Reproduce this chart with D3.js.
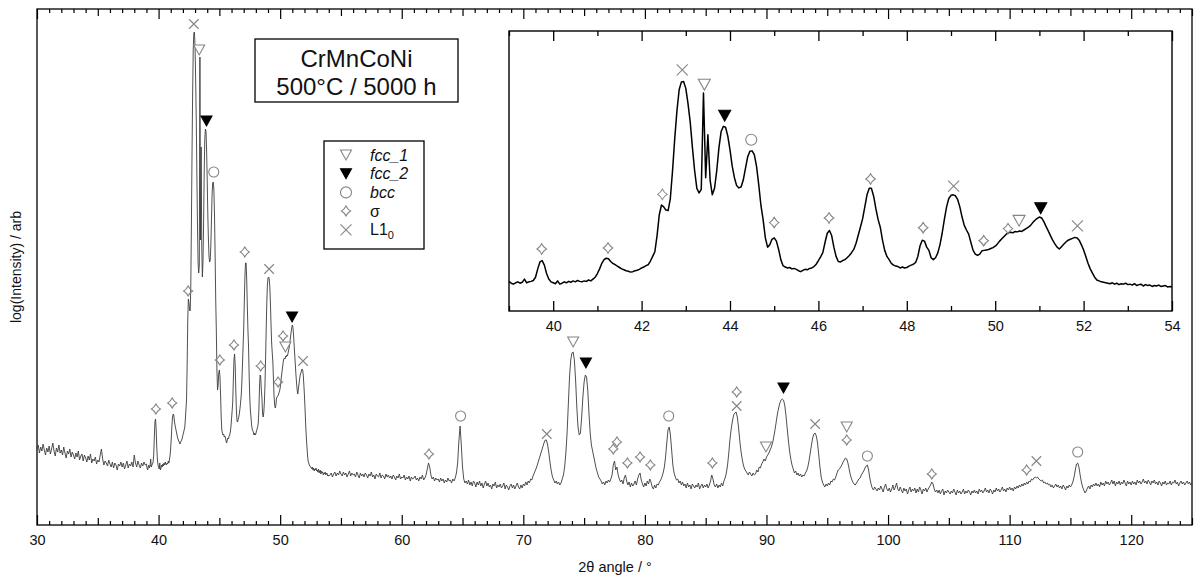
<!DOCTYPE html>
<html>
<head>
<meta charset="utf-8">
<script src="https://cdn.jsdelivr.net/npm/d3@7"></script>
<style>
  body { margin: 0; background: #fff; }
  svg { display: block; font-family: "Liberation Sans", Arial, sans-serif; }
</style>
</head>
<body>
<svg id="chart" width="1196" height="581"></svg>
<script>
// XRD scan, log(intensity) in arbitrary units
// three pieces with their own sampling step (finer through the peak cluster)
var scanLowStart = 30.0, scanLowStep = 0.1;
var scanLow = [
  76, 80, 72, 78, 74, 81, 75, 70, 77, 73,
  79, 71, 76, 82, 74, 69, 77, 73, 80, 72,
  75, 70, 78, 72, 67, 74, 71, 76, 68, 73,
  70, 66, 72, 68, 74, 65, 69, 71, 64, 70,
  67, 63, 69, 65, 71, 62, 66, 64, 68, 61,
  65, 63, 70, 76, 66, 60, 64, 62, 59, 65,
  61, 58, 63, 57, 62, 60, 55, 61, 59, 63,
  58, 62, 56, 60, 64, 57, 61, 59, 63, 58,
  70, 62, 58, 64, 60, 57, 62, 59, 63, 60,
  61
];
var scanPeakStart = 39.05, scanPeakStep = 0.05;
var scanPeak = [
  57, 55, 58, 60, 57, 59, 66, 58, 60, 61, 63, 70, 88, 103, 106, 96, 78, 66, 60, 58,
  56, 62, 55, 57, 60, 58, 61, 59, 62, 60, 63, 61, 60, 62, 61, 64, 62, 66, 70, 78,
  88, 100, 108, 111, 110, 104, 100, 97, 94, 91, 88, 86, 84, 83, 81, 82, 84, 85, 87, 90,
  92, 95, 97, 105, 115, 125, 160, 205, 226, 222, 215, 214, 240, 300, 370, 430, 475, 492, 493, 478,
  445, 405, 350, 300, 262, 252, 260, 468, 285, 378, 280, 248, 262, 300, 350, 385, 396, 394, 375, 345,
  310, 285, 268, 263, 265, 280, 305, 330, 342, 343, 335, 310, 270, 225, 194, 155, 135, 140, 152, 155,
  148, 130, 108, 95, 92, 90, 91, 88, 89, 87, 84, 82, 85, 87, 86, 89, 90, 93, 98, 106,
  114, 123, 145, 165, 171, 160, 135, 115, 104, 103, 106, 108, 112, 117, 123, 130, 143, 160, 178, 196,
  222, 248, 262, 262, 245, 218, 195, 178, 150, 128, 115, 108, 100, 96, 94, 93, 90, 92, 90, 91,
  94, 96, 98, 102, 115, 138, 150, 148, 135, 128, 112, 108, 112, 122, 140, 165, 195, 222, 240, 247,
  248, 246, 238, 222, 200, 182, 172, 163, 145, 128, 120, 117, 120, 127, 128, 129, 130, 132, 134, 137,
  142, 148, 153, 158, 163, 166, 167, 166, 169, 168, 170, 169, 172, 175, 178, 182, 188, 193, 197, 200,
  198, 190, 180, 170, 160, 150, 142, 135, 131, 136, 141, 146, 150, 152, 154, 156, 155, 150, 140, 129,
  115, 100, 88, 79, 70, 64, 62, 60, 59, 58, 57, 56, 58, 55, 57, 54, 56, 55, 57, 54,
  55, 53, 56, 52, 54, 55, 51, 54, 52, 53, 50, 52, 51, 53, 50, 51, 52, 49, 50, 49
];
var scanHighStart = 54.1, scanHighStep = 0.1;
var scanHigh = [
  50, 52, 48, 51, 53, 49, 52, 50, 54, 51,
  49, 53, 50, 52, 48, 51, 54, 49, 52, 50,
  51, 48, 53, 50, 47, 52, 49, 51, 48, 52,
  50, 47, 51, 49, 53, 48, 50, 46, 51, 49,
  48, 52, 47, 50, 49, 46, 51, 48, 50, 47,
  49, 46, 50, 48, 45, 49, 47, 51, 46, 48,
  47, 50, 45, 48, 46, 49, 44, 48, 46, 47,
  49, 45, 47, 44, 48, 46, 50, 45, 47, 50,
  56, 62, 58, 50, 46, 48, 44, 47, 45, 46,
  43, 47, 44, 46, 42, 45, 43, 47, 44, 45,
  42, 46, 44, 47, 52, 62, 84, 99, 80, 58,
  46, 42, 44, 41, 45, 40, 43, 39, 44, 42,
  38, 43, 40, 44, 39, 42, 37, 41, 44, 39,
  42, 38, 40, 36, 41, 39, 43, 37, 40, 38,
  41, 37, 39, 42, 36, 40, 38, 35, 39, 41,
  37, 40, 36, 39, 42, 38, 36, 40, 37, 41,
  39, 43, 40, 44, 42, 46, 45, 49, 52, 55,
  58, 62, 66, 70, 74, 78, 82, 85, 85, 80,
  72, 62, 54, 48, 45, 42, 44, 41, 43, 40,
  42, 46, 50, 58, 72, 92, 120, 148, 165, 172,
  173, 165, 145, 118, 98, 90, 92, 108, 128, 143,
  150, 148, 135, 112, 92, 80, 74, 68, 62, 56,
  52, 48, 46, 44, 41, 43, 40, 44, 42, 45,
  43, 46, 50, 60, 64, 55, 58, 50, 46, 43,
  45, 41, 47, 50, 44, 40, 43, 38, 42, 39,
  41, 44, 40, 46, 50, 52, 45, 41, 38, 42,
  39, 44, 41, 46, 43, 38, 36, 40, 37, 41,
  40, 43, 45, 48, 52, 58, 68, 82, 95, 98,
  90, 75, 60, 52, 48, 45, 46, 42, 44, 40,
  43, 39, 41, 37, 42, 38, 40, 36, 41, 39,
  37, 40, 38, 42, 36, 39, 41, 37, 40, 38,
  41, 37, 40, 44, 50, 46, 40, 38, 41, 37,
  40, 38, 42, 39, 44, 47, 52, 60, 72, 86,
  96, 104, 110, 112, 113, 108, 98, 85, 74, 66,
  60, 56, 54, 52, 50, 53, 51, 49, 52, 50,
  51, 55, 53, 58, 57, 61, 63, 66, 64, 68,
  70, 72, 75, 78, 82, 88, 95, 103, 111, 117,
  122, 125, 126, 125, 120, 110, 97, 85, 74, 66,
  60, 56, 52, 54, 50, 52, 49, 51, 48, 50,
  49, 52, 54, 58, 64, 72, 80, 87, 91, 92,
  89, 82, 70, 58, 48, 43, 40, 38, 41, 39,
  42, 40, 44, 43, 46, 45, 48, 52, 55, 56,
  58, 60, 63, 65, 67, 66, 62, 56, 50, 46,
  43, 41, 40, 42, 44, 46, 47, 50, 52, 54,
  57, 59, 60, 55, 47, 41, 37, 35, 38, 36,
  34, 37, 35, 39, 36, 33, 38, 41, 36, 34,
  37, 33, 36, 40, 35, 38, 42, 36, 34, 38,
  35, 32, 37, 34, 36, 31, 35, 38, 33, 36,
  34, 37, 32, 36, 33, 38, 35, 31, 36, 34,
  37, 33, 36, 38, 40, 43, 41, 36, 33, 35,
  32, 35, 31, 34, 36, 30, 34, 32, 35, 33,
  31, 34, 32, 36, 33, 30, 35, 32, 34, 31,
  33, 36, 31, 34, 32, 35, 33, 30, 34, 32,
  35, 32, 34, 31, 36, 33, 35, 32, 34, 37,
  33, 35, 32, 36, 34, 31, 35, 33, 37, 34,
  36, 33, 35, 38, 34, 36, 33, 37, 35, 38,
  35, 37, 34, 38, 36, 39, 37, 40, 38, 41,
  39, 42, 40, 43, 41, 44, 43, 46, 45, 47,
  48, 47, 48, 46, 45, 44, 45, 42, 43, 41,
  42, 40, 41, 38, 40, 37, 39, 41, 38, 40,
  37, 39, 36, 40, 38, 35, 39, 37, 40, 38,
  40, 43, 48, 55, 61, 62, 58, 50, 43, 38,
  35, 32, 34, 37, 39, 36, 40, 38, 41, 39,
  42, 39, 41, 38, 43, 40, 42, 39, 44, 41,
  43, 40, 42, 45, 41, 44, 39, 43, 41, 44,
  40, 43, 41, 45, 42, 39, 44, 41, 43, 40,
  44, 41, 43, 40, 45, 42, 44, 41, 43, 46,
  42, 44, 41, 45, 43, 40, 44, 42, 45, 41,
  43, 40, 44, 42, 39, 43, 41, 44, 40, 42,
  41, 44, 40, 43, 42, 45, 41, 43, 39, 42,
  44, 41, 43, 40, 42, 44, 41, 43, 40, 42
];

// phase markers [2theta, height] on the main plot
var fcc1Main = [[43.34, 475], [50.43, 178], [74.1, 183], [89.96, 78], [96.6, 98]];
var fcc2Main = [[43.94, 404], [50.98, 208], [75.15, 162], [91.4, 137]];
var bccMain = [[44.54, 353], [64.84, 109], [81.96, 109], [98.3, 69], [115.6, 73]];
var sigmaMain = [[39.78, 116], [41.12, 122], [42.43, 234], [45.04, 165], [46.2, 180], [47.09, 273],
  [48.4, 159], [49.83, 143], [50.24, 189], [62.24, 71], [77.4, 76], [77.7, 83], [78.56, 62],
  [79.6, 68], [80.45, 60], [85.55, 62], [87.55, 133], [96.6, 85], [103.6, 51], [111.4, 55]];
var l10Main = [[42.9, 501], [49.09, 256], [51.88, 164], [71.93, 91], [87.55, 119], [94.0, 101], [112.2, 64]];

// phase markers in the inset
var fcc1Inset = [[43.42, 486], [50.54, 192]];
var fcc2Inset = [[43.88, 419], [51.03, 219]];
var bccInset = [[44.48, 367]];
var sigmaInset = [[39.74, 131], [41.24, 133], [42.47, 249], [45.0, 188], [46.24, 198], [47.18, 282],
  [48.37, 177], [49.74, 149], [50.29, 175]];
var l10Inset = [[42.92, 518], [49.06, 267], [51.86, 181]];

var legendNames = ["fcc_1", "fcc_2", "bcc", "σ", "L1"];
var legendTypes = ["fcc1", "fcc2", "bcc", "sigma", "l10"];

var mainTicks = d3.range(30, 126, 1);
var mainLabels = d3.range(30, 121, 10);
var insetTicks = d3.range(39, 55, 1);
var insetLabels = d3.range(40, 55, 2);

function buildPoints(start, step, values) {
  return values.map(function(v, i) {
    return [Math.round((start + i * step) * 100) / 100, v];
  });
}

var scan = buildPoints(scanLowStart, scanLowStep, scanLow)
  .concat(buildPoints(scanPeakStart, scanPeakStep, scanPeak))
  .concat(buildPoints(scanHighStart, scanHighStep, scanHigh));

var svg = d3.select("#chart");
var grey = "#858585";

/*
  one phase marker, centred on (cx, cy)
*/
function drawMark(g, type, cx, cy, s) {
  var h = s / 2;
  if (type === "fcc1" || type === "fcc2") {
    var th = s * 0.45;
    g.append("path")
      .attr("d", "M" + (cx - h) + "," + (cy - th) + "L" + (cx + h) + "," + (cy - th) + "L" + cx + "," + (cy + th) + "Z")
      .attr("fill", type === "fcc2" ? "#000" : "#fff")
      .attr("stroke", type === "fcc2" ? "#000" : grey)
      .attr("stroke-width", 1.1);
  } else if (type === "bcc") {
    g.append("circle")
      .attr("cx", cx).attr("cy", cy).attr("r", h)
      .attr("fill", "none").attr("stroke", grey).attr("stroke-width", 1.1);
  } else if (type === "sigma") {
    var c = h * 0.33;
    g.append("path")
      .attr("d", "M" + cx + "," + (cy - h)
        + "Q" + (cx + c) + "," + (cy - c) + " " + (cx + h * 0.9) + "," + cy
        + "Q" + (cx + c) + "," + (cy + c) + " " + cx + "," + (cy + h)
        + "Q" + (cx - c) + "," + (cy + c) + " " + (cx - h * 0.9) + "," + cy
        + "Q" + (cx - c) + "," + (cy - c) + " " + cx + "," + (cy - h) + "Z")
      .attr("fill", "none").attr("stroke", grey).attr("stroke-width", 1.1);
  } else {
    g.append("path")
      .attr("d", "M" + (cx - h) + "," + (cy - h) + "L" + (cx + h) + "," + (cy + h)
        + "M" + (cx + h) + "," + (cy - h) + "L" + (cx - h) + "," + (cy + h))
      .attr("fill", "none").attr("stroke", grey).attr("stroke-width", 1.1);
  }
}

function drawMarks(g, list, type, xs, ys, s) {
  list.forEach(function(d) { drawMark(g, type, xs(d[0]), ys(d[1]), s); });
}

function tickLen(v) {
  return v % 10 === 0 ? 10 : (v % 5 === 0 ? 7 : 4);
}

// ============= main plot =============
var x = d3.scaleLinear().domain([30, 125]).range([37, 1192]);
var y = d3.scaleLinear().domain([0, 516]).range([525, 9]);

var mainG = svg.append("g");

[4, 7, 10].forEach(function(len) {
  var vals = mainTicks.filter(function(v) { return tickLen(v) === len; });
  mainG.append("g").attr("transform", "translate(0,525)")
    .call(d3.axisBottom(x).tickValues(vals).tickSize(-len).tickFormat(""))
    .call(function(a) { a.select(".domain").remove(); a.selectAll("line").attr("stroke-width", 1.2); });
  mainG.append("g").attr("transform", "translate(0,9)")
    .call(d3.axisTop(x).tickValues(vals).tickSize(-len).tickFormat(""))
    .call(function(a) { a.select(".domain").remove(); a.selectAll("line").attr("stroke-width", 1.2); });
});

mainG.append("g").attr("transform", "translate(0,525)")
  .call(d3.axisBottom(x).tickValues(mainLabels).tickSize(0).tickPadding(10).tickFormat(d3.format("d")))
  .call(function(a) {
    a.select(".domain").remove();
    a.selectAll("text").attr("font-size", 14.5).attr("fill", "#111")
      .attr("font-family", "'Liberation Sans', Arial, sans-serif");
  });

mainG.append("rect")
  .attr("x", 37).attr("y", 9).attr("width", 1155).attr("height", 516)
  .attr("fill", "none").attr("stroke", "#000").attr("stroke-width", 1.3);

mainG.append("path")
  .datum(scan)
  .attr("d", d3.line().x(function(d) { return x(d[0]); }).y(function(d) { return y(d[1]); }))
  .attr("fill", "none").attr("stroke", "#3c3c3c").attr("stroke-width", 0.9);

drawMarks(mainG, fcc1Main, "fcc1", x, y, 11);
drawMarks(mainG, fcc2Main, "fcc2", x, y, 11);
drawMarks(mainG, bccMain, "bcc", x, y, 10);
drawMarks(mainG, sigmaMain, "sigma", x, y, 10);
drawMarks(mainG, l10Main, "l10", x, y, 9.5);

svg.append("text")
  .attr("x", 615).attr("y", 572).attr("text-anchor", "middle")
  .attr("font-size", 14.5).attr("fill", "#111")
  .text("2θ angle / °");

svg.append("text")
  .attr("transform", "translate(21,267) rotate(-90)")
  .attr("text-anchor", "middle")
  .attr("font-size", 14).attr("fill", "#111")
  .text("log(Intensity) / arb");

// ============= inset =============
var xi = d3.scaleLinear().domain([39, 54]).range([509, 1172]);
var yi = d3.scaleLinear().domain([-3, 602]).range([311, 31]);

var insetG = svg.append("g");
insetG.append("rect")
  .attr("x", 509).attr("y", 31).attr("width", 663).attr("height", 280)
  .attr("fill", "#fff").attr("stroke", "none");

[5, 10].forEach(function(len) {
  var vals = insetTicks.filter(function(v) { return (v % 2 === 0 ? 10 : 5) === len; });
  insetG.append("g").attr("transform", "translate(0,311)")
    .call(d3.axisBottom(xi).tickValues(vals).tickSize(-len).tickFormat(""))
    .call(function(a) { a.select(".domain").remove(); a.selectAll("line").attr("stroke-width", 1.3); });
  insetG.append("g").attr("transform", "translate(0,31)")
    .call(d3.axisTop(xi).tickValues(vals).tickSize(-len).tickFormat(""))
    .call(function(a) { a.select(".domain").remove(); a.selectAll("line").attr("stroke-width", 1.3); });
});

insetG.append("g").attr("transform", "translate(0,311)")
  .call(d3.axisBottom(xi).tickValues(insetLabels).tickSize(0).tickPadding(10).tickFormat(d3.format("d")))
  .call(function(a) {
    a.select(".domain").remove();
    a.selectAll("text").attr("font-size", 14.5).attr("fill", "#111")
      .attr("font-family", "'Liberation Sans', Arial, sans-serif");
  });

insetG.append("path")
  .datum(scan.filter(function(d) { return d[0] >= 39 && d[0] <= 54; }))
  .attr("d", d3.line().x(function(d) { return xi(d[0]); }).y(function(d) { return yi(d[1]); }))
  .attr("fill", "none").attr("stroke", "#000").attr("stroke-width", 1.5)
  .attr("stroke-linejoin", "round");

drawMarks(insetG, fcc1Inset, "fcc1", xi, yi, 12);
drawMarks(insetG, fcc2Inset, "fcc2", xi, yi, 12);
drawMarks(insetG, bccInset, "bcc", xi, yi, 11);
drawMarks(insetG, sigmaInset, "sigma", xi, yi, 10.5);
drawMarks(insetG, l10Inset, "l10", xi, yi, 11);

insetG.append("rect")
  .attr("x", 509).attr("y", 31).attr("width", 663).attr("height", 280)
  .attr("fill", "none").attr("stroke", "#000").attr("stroke-width", 1.4);

// ============= title box =============
svg.append("rect")
  .attr("x", 255).attr("y", 39).attr("width", 203).attr("height", 63)
  .attr("fill", "#fff").attr("stroke", "#000").attr("stroke-width", 1.3);
svg.append("text").attr("x", 356.5).attr("y", 67).attr("text-anchor", "middle")
  .attr("font-size", 24).attr("fill", "#111").text("CrMnCoNi");
svg.append("text").attr("x", 356.5).attr("y", 94.5).attr("text-anchor", "middle")
  .attr("font-size", 24).attr("fill", "#111").text("500°C / 5000 h");

// ============= legend =============
var legend = svg.append("g");
legend.append("rect")
  .attr("x", 324).attr("y", 141).attr("width", 100).attr("height", 108)
  .attr("fill", "#fff").attr("stroke", "#000").attr("stroke-width", 1.3);

legendNames.forEach(function(name, i) {
  var cy = 155 + i * 18.7;
  drawMark(legend, legendTypes[i], 346, cy, legendTypes[i] === "sigma" ? 10 : 11);
  var t = legend.append("text")
    .attr("x", 370).attr("y", cy + 5.5)
    .attr("font-size", 16).attr("fill", "#111")
    .attr("font-style", i < 3 ? "italic" : "normal")
    .text(name);
  if (legendTypes[i] === "l10") {
    t.append("tspan").attr("dy", 4).attr("font-size", 11).text("0");
  }
});
</script>
</body>
</html>
